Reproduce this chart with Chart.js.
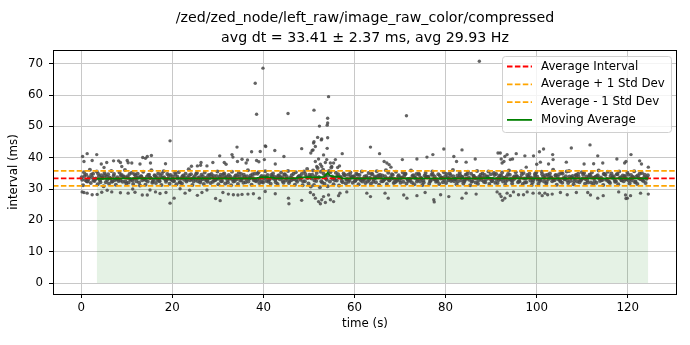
<!DOCTYPE html>
<html>
<head>
<meta charset="utf-8">
<script src="https://cdn.jsdelivr.net/npm/chart.js@4.4.1/dist/chart.umd.min.js"></script>
<style>
html, body { margin: 0; padding: 0; background: #fff; }
canvas { display: block; }
</style>
</head>
<body>
<canvas id="intervalChart" width="690" height="345"></canvas>
<script>
// topic stats (from the plot title)
var topicName = '/zed/zed_node/left_raw/image_raw_color/compressed';
var avgInterval = 33.41;
var stdInterval = 2.37;
var avgRate = 29.93;

// axis limits and ticks
var xMin = -6.2, xMax = 130.8, xStep = 20;
var yMin = -3.5, yMax = 74.4, yStep = 10;

var legendLabels = ['Average Interval', 'Average + 1 Std Dev', 'Average - 1 Std Dev', 'Moving Average'];

// dense band of intervals (s, ms)
var bandTimes = [
0.1,0.4,0.6,0.9,1.1,1.4,1.6,1.9,2.1,2.4,2.6,2.9,3.1,3.4,3.6,3.9,4.1,4.4,4.6,4.9,5.1,5.4,5.6,5.9,6.1,6.4,6.6,6.9,7.1,7.4,7.6,7.9,8.1,8.4,8.6,8.9,9.1,9.4,9.6,9.9,
10.1,10.4,10.6,10.9,11.1,11.4,11.6,11.9,12.1,12.4,12.6,12.9,13.1,13.4,13.6,13.9,14.1,14.4,14.6,14.9,15.1,15.4,15.6,15.9,16.1,16.4,16.6,16.9,17.1,17.4,17.6,17.9,18.1,18.4,18.6,18.9,19.1,19.4,19.6,19.9,
20.1,20.4,20.6,20.9,21.1,21.4,21.6,21.9,22.1,22.4,22.6,22.9,23.1,23.4,23.6,23.9,24.1,24.4,24.6,24.9,25.1,25.4,25.6,25.9,26.1,26.4,26.6,26.9,27.1,27.4,27.6,27.9,28.1,28.4,28.6,28.9,29.1,29.4,29.6,29.9,
30.1,30.4,30.6,30.9,31.1,31.4,31.6,31.9,32.1,32.4,32.6,32.9,33.1,33.4,33.6,33.9,34.1,34.4,34.6,34.9,35.1,35.4,35.6,35.9,36.1,36.4,36.6,36.9,37.1,37.4,37.6,37.9,38.1,38.4,38.6,38.9,39.1,39.4,39.6,39.9,
40.1,40.4,40.6,40.9,41.1,41.4,41.6,41.9,42.1,42.4,42.6,42.9,43.1,43.4,43.6,43.9,44.1,44.4,44.6,44.9,45.1,45.4,45.6,45.9,46.1,46.4,46.6,46.9,47.1,47.4,47.6,47.9,48.1,48.4,48.6,48.9,49.1,49.4,49.6,49.9,
50.1,50.4,50.6,50.9,51.1,51.4,51.6,51.9,52.1,52.4,52.6,52.9,53.1,53.4,53.6,53.9,54.1,54.4,54.6,54.9,55.1,55.4,55.6,55.9,56.1,56.4,56.6,56.9,57.1,57.4,57.6,57.9,58.1,58.4,58.6,58.9,59.1,59.4,59.6,59.9,
60.1,60.4,60.6,60.9,61.1,61.4,61.6,61.9,62.1,62.4,62.6,62.9,63.1,63.4,63.6,63.9,64.1,64.4,64.6,64.9,65.1,65.4,65.6,65.9,66.1,66.4,66.6,66.9,67.1,67.4,67.6,67.9,68.1,68.4,68.6,68.9,69.1,69.4,69.6,69.9,
70.1,70.4,70.6,70.9,71.1,71.4,71.6,71.9,72.1,72.4,72.6,72.9,73.1,73.4,73.6,73.9,74.1,74.4,74.6,74.9,75.1,75.4,75.6,75.9,76.1,76.4,76.6,76.9,77.1,77.4,77.6,77.9,78.1,78.4,78.6,78.9,79.1,79.4,79.6,79.9,
80.1,80.4,80.6,80.9,81.1,81.4,81.6,81.9,82.1,82.4,82.6,82.9,83.1,83.4,83.6,83.9,84.1,84.4,84.6,84.9,85.1,85.4,85.6,85.9,86.1,86.4,86.6,86.9,87.1,87.4,87.6,87.9,88.1,88.4,88.6,88.9,89.1,89.4,89.6,89.9,
90.1,90.4,90.6,90.9,91.1,91.4,91.6,91.9,92.1,92.4,92.6,92.9,93.1,93.4,93.6,93.9,94.1,94.4,94.6,94.9,95.1,95.4,95.6,95.9,96.1,96.4,96.6,96.9,97.1,97.4,97.6,97.9,98.1,98.4,98.6,98.9,99.1,99.4,99.6,99.9,
100.1,100.4,100.6,100.9,101.1,101.4,101.6,101.9,102.1,102.4,102.6,102.9,103.1,103.4,103.6,103.9,104.1,104.4,104.6,104.9,105.1,105.4,105.6,105.9,106.1,106.4,106.6,106.9,107.1,107.4,107.6,107.9,108.1,108.4,108.6,108.9,109.1,109.4,109.6,109.9,
110.1,110.4,110.6,110.9,111.1,111.4,111.6,111.9,112.1,112.4,112.6,112.9,113.1,113.4,113.6,113.9,114.1,114.4,114.6,114.9,115.1,115.4,115.6,115.9,116.1,116.4,116.6,116.9,117.1,117.4,117.6,117.9,118.1,118.4,118.6,118.9,119.1,119.4,119.6,119.9,
120.1,120.4,120.6,120.9,121.1,121.4,121.6,121.9,122.1,122.4,122.6,122.9,123.1,123.4,123.6,123.9,124.1,124.4
];
var bandValues = [
33.8,31.2,35.4,32.9,34.6,32.4,33.1,36.2,31.9,33.7,34.9,32.6,33.2,35.6,31.5,34.1,32.8,34.4,33.6,30.9,35.1,32.2,33.9,34.7,31.7,33.4,35.8,32.5,34.2,32.9,31.4,33.8,33.1,35.3,32.7,34.5,32.3,34.0,36.1,31.8,
33.6,32.1,34.8,33.0,35.2,31.6,33.3,34.3,32.5,34.9,33.7,31.1,34.1,32.8,35.5,33.2,31.4,33.9,32.4,34.6,33.5,36.0,32.0,33.0,34.4,31.9,33.8,35.0,32.7,34.2,31.3,33.6,35.7,33.1,32.3,34.8,33.3,31.7,34.5,32.9,
34.0,32.6,35.2,31.5,33.9,35.4,32.2,33.4,31.8,34.3,33.0,34.9,32.4,33.7,36.3,32.8,34.7,31.3,33.5,34.1,33.0,35.1,32.5,33.8,32.1,34.6,33.2,31.6,35.3,33.6,32.7,34.4,33.4,31.9,34.8,32.3,34.2,32.8,33.1,35.6,
31.5,33.9,34.6,32.6,33.7,35.0,31.8,34.0,32.9,34.5,33.3,31.2,35.5,32.4,33.8,34.3,33.1,31.6,35.2,32.7,34.8,33.5,32.0,33.9,32.2,34.1,36.0,33.3,33.6,31.4,34.7,32.8,34.9,32.5,33.0,35.4,31.9,33.8,34.2,32.1,
33.4,35.7,32.6,34.5,32.3,33.2,31.7,34.0,35.0,33.9,32.9,33.5,31.6,34.4,33.1,35.3,33.8,32.0,34.6,32.7,34.1,35.8,31.9,33.6,32.8,33.3,34.9,31.4,35.4,32.3,33.7,34.2,33.0,34.8,31.2,35.6,32.5,33.9,36.4,31.8,
34.6,30.8,33.4,35.9,31.3,34.1,32.6,36.7,33.7,30.6,35.5,32.1,36.2,31.7,34.3,33.0,30.9,35.8,32.4,36.9,34.0,31.5,33.6,35.2,32.7,34.7,31.1,33.9,33.5,32.2,35.0,34.4,31.8,33.1,34.6,32.9,35.3,33.7,32.0,34.1,
32.6,34.9,33.3,31.5,34.5,32.8,35.6,33.2,33.0,31.9,34.2,32.4,35.1,33.6,31.7,34.8,32.3,34.0,33.5,35.7,33.9,31.4,34.6,32.5,34.3,32.9,33.1,36.0,31.6,35.2,32.7,33.8,33.4,34.5,31.9,32.2,35.5,33.0,34.1,32.8,
32.0,33.7,35.3,34.2,34.7,31.8,33.2,32.6,33.3,35.9,32.1,34.4,31.5,33.5,34.8,33.0,34.9,32.4,33.6,31.3,32.7,34.3,35.1,33.9,33.8,31.7,32.5,34.6,35.6,33.1,34.0,32.3,32.9,34.7,31.6,33.4,33.6,32.2,35.4,34.1,
31.9,33.8,32.8,35.0,34.4,33.0,36.1,32.5,33.2,31.5,34.3,33.7,35.2,32.7,33.9,31.8,32.4,34.6,33.3,35.5,33.7,31.2,34.9,32.6,34.2,33.5,32.1,35.8,31.7,34.0,33.6,32.9,35.0,32.3,34.5,33.1,33.9,35.6,31.6,34.7,
32.6,33.2,35.1,32.0,34.8,31.9,33.7,34.3,33.1,35.3,32.4,33.5,31.4,34.1,33.0,35.9,34.6,32.8,31.8,33.8,33.3,35.4,34.2,32.2,32.5,33.6,35.7,31.6,35.1,32.1,33.4,34.5,33.8,34.9,32.7,31.3,32.2,33.5,34.8,35.3,
34.0,31.7,33.1,32.9,35.5,33.9,32.4,34.4,31.8,34.6,33.2,35.0,33.6,32.5,36.2,32.8,34.3,31.4,33.9,34.7,32.9,35.2,32.0,33.5,33.1,34.1,35.6,31.9,35.8,32.6,33.7,34.2,31.5,33.3,34.5,32.4,34.9,32.2,33.0,35.4,
33.4,35.1,31.7,34.0,32.7,33.8,34.6,32.1,35.3,31.6,33.5,33.9,32.0,34.4,35.9,32.6,33.7,32.9,31.3,34.8,34.5,33.2,35.5,32.3,31.9,35.0,33.6,34.1,33.0,32.4,34.7,31.5,35.6,33.8,32.8,34.3,32.5,34.2,33.1,35.2,
34.6,31.8,33.4,32.7,33.9,35.7,32.2,34.0,31.6,33.5,34.9,33.2,35.1,32.6,33.8,31.9,33.3,34.4
];

// extra samples in the solid core of the band
var coreTimes = [
0.2,0.7,1.2,1.7,2.2,2.7,3.2,3.7,4.2,4.7,5.2,5.7,6.2,6.7,7.2,7.7,8.2,8.7,9.2,9.7,
10.2,10.7,11.2,11.7,12.2,12.7,13.2,13.7,14.2,14.7,15.2,15.7,16.2,16.7,17.2,17.7,18.2,18.7,19.2,19.7,
20.2,20.7,21.2,21.7,22.2,22.7,23.2,23.7,24.2,24.7,25.2,25.7,26.2,26.7,27.2,27.7,28.2,28.7,29.2,29.7,
30.2,30.7,31.2,31.7,32.2,32.7,33.2,33.7,34.2,34.7,35.2,35.7,36.2,36.7,37.2,37.7,38.2,38.7,39.2,39.7,
40.2,40.7,41.2,41.7,42.2,42.7,43.2,43.7,44.2,44.7,45.2,45.7,46.2,46.7,47.2,47.7,48.2,48.7,49.2,49.7,
50.2,50.7,51.2,51.7,52.2,52.7,53.2,53.7,54.2,54.7,55.2,55.7,56.2,56.7,57.2,57.7,58.2,58.7,59.2,59.7,
60.2,60.7,61.2,61.7,62.2,62.7,63.2,63.7,64.2,64.7,65.2,65.7,66.2,66.7,67.2,67.7,68.2,68.7,69.2,69.7,
70.2,70.7,71.2,71.7,72.2,72.7,73.2,73.7,74.2,74.7,75.2,75.7,76.2,76.7,77.2,77.7,78.2,78.7,79.2,79.7,
80.2,80.7,81.2,81.7,82.2,82.7,83.2,83.7,84.2,84.7,85.2,85.7,86.2,86.7,87.2,87.7,88.2,88.7,89.2,89.7,
90.2,90.7,91.2,91.7,92.2,92.7,93.2,93.7,94.2,94.7,95.2,95.7,96.2,96.7,97.2,97.7,98.2,98.7,99.2,99.7,
100.2,100.7,101.2,101.7,102.2,102.7,103.2,103.7,104.2,104.7,105.2,105.7,106.2,106.7,107.2,107.7,108.2,108.7,109.2,109.7,
110.2,110.7,111.2,111.7,112.2,112.7,113.2,113.7,114.2,114.7,115.2,115.7,116.2,116.7,117.2,117.7,118.2,118.7,119.2,119.7,
120.2,120.7,121.2,121.7,122.2,122.7,123.2,123.7,124.2
];
var coreValues = [
33.0,34.2,32.5,33.8,34.6,32.8,33.4,34.9,32.2,33.6,34.4,32.9,33.7,32.3,34.8,33.1,32.6,34.3,33.9,32.4,
34.1,33.2,32.7,34.7,33.5,32.1,34.0,33.3,32.8,34.5,33.6,32.4,34.2,33.0,32.5,34.9,33.8,32.9,34.3,33.1,
32.6,34.6,33.4,32.2,34.0,33.7,32.9,34.4,33.2,32.4,34.8,33.5,32.7,34.1,33.0,32.3,34.5,33.8,32.8,34.2,
33.3,32.5,34.7,33.6,32.1,34.0,33.1,32.6,34.4,33.9,32.9,34.6,33.2,32.4,34.3,33.5,32.7,34.9,33.0,32.3,
34.1,33.7,32.8,34.5,33.4,32.2,34.2,33.8,32.6,34.7,33.3,32.5,34.4,33.1,32.9,34.0,33.6,32.4,34.8,33.5,
33.9,34.6,32.7,35.1,33.8,32.5,34.9,33.4,34.3,35.4,33.2,32.8,34.1,33.7,32.6,34.5,33.0,32.3,34.2,33.9,
32.7,34.6,33.3,32.4,34.0,33.6,32.9,34.8,33.1,32.2,34.3,33.8,32.5,34.1,33.4,32.8,34.7,33.2,32.6,34.4,
33.5,32.3,34.9,33.0,32.8,34.2,33.7,32.4,34.5,33.3,32.1,34.0,33.9,32.7,34.6,33.1,32.5,34.3,33.6,32.9,
34.8,33.4,32.6,34.1,33.2,32.4,34.4,33.8,32.9,34.7,33.0,32.3,34.2,33.5,32.8,34.6,33.7,32.2,34.0,33.3,
32.6,34.5,33.1,32.9,34.3,33.6,32.4,34.8,33.2,32.7,34.1,33.9,32.5,34.6,33.4,32.2,34.0,33.7,32.8,34.4,
33.0,32.6,34.7,33.5,32.3,34.2,33.8,32.9,34.5,33.1,32.4,34.9,33.3,32.7,34.0,33.6,32.5,34.3,33.9,32.8,
34.6,33.2,32.1,34.4,33.7,32.6,34.1,33.4,32.9,34.8,33.0,32.5,34.2,33.8,32.3,34.7,33.5,32.8,34.0,33.1,
32.7,34.5,33.6,32.4,34.3,33.2,32.9,34.6,33.7
];

// scattered samples at the edges of the band
var fringeTimes = [
0.3,1.3,3.4,0.6,2.4,4.4,5.6,7.1,8.2,8.6,5.0,8.9,10.1,10.3,11.1,13.5,14.1,14.5,15.4,12.9,15.2,18.5,24.2,25.5,26.2,26.3,27.6,28.9,30.4,31.4,31.8,33.1,33.3,34.3,35.3,36.2,36.5,37.4,38.5,39.0,
0.2,0.6,1.3,2.4,3.5,4.5,5.7,6.7,8.6,10.3,11.3,11.8,13.4,14.5,15.1,16.3,17.3,18.6,20.4,21.7,22.8,23.8,25.5,26.5,27.6,29.5,30.5,31.1,32.3,33.4,34.4,35.3,36.6,37.8,39.1,
40.4,39.3,42.5,42.6,44.5,48.4,50.4,50.7,53.2,51.4,52.1,52.5,53.6,53.9,54.7,55.0,55.4,55.8,56.7,52.8,51.7,57.3,56.3,63.5,65.5,66.5,67.1,67.6,68.0,70.5,73.7,75.9,77.2,79.6,81.8,82.4,40.2,
40.4,42.6,45.5,48.4,50.3,51.0,51.4,52.1,52.8,53.2,53.6,54.3,54.7,55.4,56.5,56.8,58.3,62.7,63.5,66.7,67.4,70.8,71.5,73.7,75.5,77.4,78.9,80.7,
83.6,84.5,86.5,91.5,92.0,92.2,92.4,92.8,93.0,93.5,94.2,94.7,95.5,97.4,97.7,99.3,100.6,101.5,100.0,100.8,102.6,103.5,103.6,106.5,107.6,110.4,111.7,112.5,113.4,114.5,117.6,119.3,119.6,120.7,122.6,123.0,124.5,
83.6,84.5,86.7,91.3,91.9,92.2,92.5,93.0,93.5,94.2,94.9,96.0,97.1,97.9,99.2,100.6,101.2,101.8,102.4,103.4,105.2,106.7,108.7,111.2,111.8,113.4,114.6,118.0,119.5,119.9,120.6,122.8,124.5
];
var fringeValues = [
40.4,41.3,41.0,38.8,39.1,38.0,38.5,39.0,39.0,38.5,36.9,37.2,39.1,38.4,38.3,40.1,39.8,40.4,40.7,38.0,38.3,38.1,37.3,37.4,37.6,38.5,37.4,38.5,40.6,38.5,37.9,41.0,40.2,38.8,39.5,38.3,39.3,41.9,39.1,38.7,
29.1,28.9,28.7,28.2,28.3,29.0,29.6,29.1,28.8,28.7,30.0,29.0,28.1,28.1,29.7,29.1,28.6,28.9,27.1,30.1,28.7,29.6,28.0,28.9,29.7,27.0,26.3,28.9,28.4,28.2,28.1,28.3,28.4,28.5,27.1,
43.8,42.0,42.3,38.0,40.4,42.9,41.5,42.3,40.9,38.8,39.6,37.9,38.5,39.4,38.3,37.2,38.3,39.4,37.4,37.2,37.2,41.3,36.9,43.4,41.3,38.8,38.3,37.8,37.0,39.4,39.6,40.2,41.0,42.8,40.4,38.8,39.4,
29.2,28.5,27.1,26.4,28.9,28.2,27.1,26.0,26.6,27.6,25.7,28.1,26.6,26.0,27.9,28.7,29.1,28.7,27.6,28.7,27.1,28.1,27.1,27.9,28.9,26.6,28.2,27.6,
42.5,38.6,39.6,41.5,41.5,39.6,38.3,38.8,40.4,41.0,39.4,39.6,41.3,40.6,37.0,40.6,41.9,42.8,37.9,38.6,38.0,41.0,39.4,38.6,43.1,38.0,44.1,38.1,40.6,38.3,39.6,38.3,38.8,41.0,39.0,38.0,37.0,
27.1,28.7,28.4,29.1,28.4,27.6,26.4,27.1,28.7,27.9,29.1,28.2,28.2,29.1,28.7,28.7,27.9,28.7,28.2,28.4,28.9,28.2,28.9,28.9,28.1,27.1,27.9,29.1,28.1,27.1,27.9,28.7,28.4
];

// isolated spikes and drops
var spikeTimes = [19.5,34.2,38.2,38.5,39.9,40.5,45.4,51.1,54.3,54.1,54.1,54.0,52.3,51.9,52.7,54.1,51.1,50.9,51.4,54.0,51.0,52.8,71.4,87.4,19.5,45.6,52.5,77.5,119.6];
var spikeValues = [45.4,43.4,63.8,53.9,68.6,43.6,54.1,55.2,59.5,52.6,51.1,50.4,50.1,46.5,45.7,46.4,45.1,42.5,43.6,43.0,44.7,46.0,53.4,70.8,25.5,25.3,25.3,25.9,27.0];

// moving average (s, ms)
var maTimes = [3.4,10,20,30,38,39.5,41,42.5,44,47,48.5,50,52,53.3,54.1,54.6,55.2,56.6,57.3,70,88,89.5,91,100,110,124.5];
var maValues = [33.3,33.4,33.4,33.4,33.4,33.7,33.8,33.5,33.4,33.5,33.7,33.8,33.7,33.9,35.2,34.3,34.0,34.0,33.4,33.4,33.4,33.6,33.4,33.4,33.4,33.4];

var fontFamily = "'DejaVu Sans', sans-serif";
var dotColor = 'rgba(72,72,72,0.85)';

function toPoints(xs, ys) {
    var pts = [];
    for (var i = 0; i < xs.length; i++) {
        pts.push({ x: xs[i], y: ys[i] });
    }
    return pts;
}

var densePoints = toPoints(bandTimes, bandValues).concat(toPoints(coreTimes, coreValues));
var loosePoints = toPoints(fringeTimes, fringeValues).concat(toPoints(spikeTimes, spikeValues));

function hLine(y) {
    return [{ x: xMin, y: y }, { x: xMax, y: y }];
}

// black frame round the plot area, like the matplotlib spines
var framePlugin = {
    id: 'frame',
    afterDraw: function (chart) {
        var a = chart.chartArea, ctx = chart.ctx;
        ctx.save();
        ctx.strokeStyle = '#000';
        ctx.lineWidth = 1;
        ctx.strokeRect(Math.round(a.left) + 0.5, Math.round(a.top) + 0.5,
            Math.round(a.right - a.left) - 1, Math.round(a.bottom - a.top));
        ctx.restore();
    }
};

// legend box in the upper right corner of the plot
var boxLegendPlugin = {
    id: 'boxLegend',
    afterDraw: function (chart) {
        var a = chart.chartArea, ctx = chart.ctx;
        var w = 169, h = 76, rowH = 17.8;
        var x0 = a.right - 6 - w, y0 = a.top + 6;
        var styles = [
            { color: 'red', dash: [5.5, 2.4] },
            { color: 'orange', dash: [5.5, 2.4] },
            { color: 'orange', dash: [5.5, 2.4] },
            { color: 'green', dash: [] }
        ];
        ctx.save();
        ctx.beginPath();
        ctx.roundRect(x0 + 0.5, y0 + 0.5, w, h, 3);
        ctx.fillStyle = 'rgba(255,255,255,0.8)';
        ctx.fill();
        ctx.strokeStyle = '#d0d0d0';
        ctx.lineWidth = 1;
        ctx.stroke();
        ctx.font = '11.8px ' + fontFamily;
        ctx.textBaseline = 'middle';
        ctx.textAlign = 'left';
        for (var i = 0; i < legendLabels.length; i++) {
            var yy = y0 + 10.5 + i * rowH;
            ctx.beginPath();
            ctx.setLineDash(styles[i].dash);
            ctx.strokeStyle = styles[i].color;
            ctx.lineWidth = 1.8;
            ctx.moveTo(x0 + 5, yy);
            ctx.lineTo(x0 + 30, yy);
            ctx.stroke();
            ctx.setLineDash([]);
            ctx.fillStyle = '#000';
            ctx.fillText(legendLabels[i], x0 + 39, yy);
        }
        ctx.restore();
    }
};

var ctx = document.getElementById('intervalChart').getContext('2d');

var intervalChart = new Chart(ctx, {
    type: 'scatter',
    data: {
        datasets: [
            {
                type: 'line',
                label: legendLabels[3],
                data: toPoints(maTimes, maValues),
                borderColor: 'green',
                backgroundColor: 'rgba(0,128,0,0.1)',
                borderWidth: 1.8,
                pointRadius: 0,
                fill: 'origin',
                tension: 0
            },
            {
                type: 'line',
                label: legendLabels[0],
                data: hLine(avgInterval),
                borderColor: 'red',
                borderWidth: 1.8,
                borderDash: [5.5, 2.4],
                pointRadius: 0,
                fill: false
            },
            {
                type: 'line',
                label: legendLabels[1],
                data: hLine(avgInterval + stdInterval),
                borderColor: 'orange',
                borderWidth: 1.8,
                borderDash: [5.5, 2.4],
                pointRadius: 0,
                fill: false
            },
            {
                type: 'line',
                label: legendLabels[2],
                data: hLine(avgInterval - stdInterval),
                borderColor: 'orange',
                borderWidth: 1.8,
                borderDash: [5.5, 2.4],
                pointRadius: 0,
                fill: false
            },
            {
                label: 'Intervals',
                data: loosePoints,
                backgroundColor: dotColor,
                borderWidth: 0,
                pointRadius: 1.7
            },
            {
                label: 'Intervals (band)',
                data: densePoints,
                backgroundColor: dotColor,
                borderWidth: 0,
                pointRadius: 2.0
            }
        ]
    },
    options: {
        responsive: false,
        animation: false,
        events: [],
        layout: { padding: { left: 0, right: 13, top: 0, bottom: 0 } },
        plugins: {
            legend: { display: false },
            tooltip: { enabled: false },
            filler: { drawTime: 'beforeDatasetsDraw' },
            title: {
                display: true,
                fullSize: false,
                text: [topicName, 'avg dt = ' + avgInterval.toFixed(2) + ' \u00b1 ' + stdInterval.toFixed(2) + ' ms, avg ' + avgRate.toFixed(2) + ' Hz'],
                color: '#000',
                font: { family: fontFamily, size: 14.2, weight: 'normal', lineHeight: 1.408 },
                padding: { top: 8, bottom: 2 }
            }
        },
        scales: {
            x: {
                type: 'linear',
                min: xMin,
                max: xMax,
                ticks: { stepSize: xStep, includeBounds: false, color: '#000', padding: 3, maxRotation: 0, font: { family: fontFamily, size: 11.8 } },
                grid: { color: '#c8c8c8', lineWidth: 1, tickLength: 4, tickColor: '#000' },
                border: { display: false },
                title: { display: true, text: 'time (s)', color: '#000', font: { family: fontFamily, size: 11.8 }, padding: { top: 0, bottom: 14 } },
                afterFit: function (scale) { scale.height = 51; }
            },
            y: {
                type: 'linear',
                min: yMin,
                max: yMax,
                ticks: { stepSize: yStep, includeBounds: false, color: '#000', padding: 6, font: { family: fontFamily, size: 11.8 } },
                grid: { color: '#c8c8c8', lineWidth: 1, tickLength: 4, tickColor: '#000' },
                border: { display: false },
                title: { display: true, text: 'interval (ms)', color: '#000', font: { family: fontFamily, size: 11.8 }, padding: { top: 7, bottom: 0 } },
                afterFit: function (scale) { scale.width = 53; }
            }
        }
    },
    plugins: [framePlugin, boxLegendPlugin]
});
</script>
</body>
</html>
